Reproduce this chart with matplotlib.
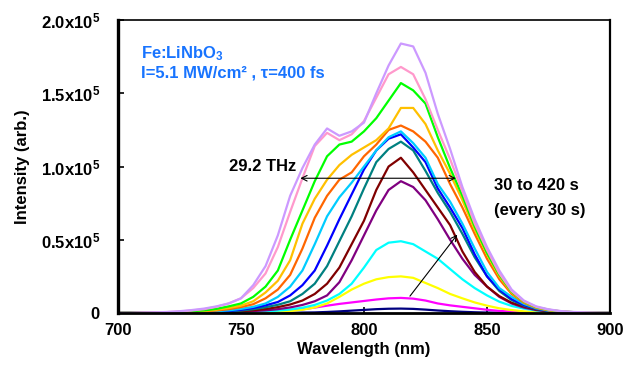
import numpy as np
import matplotlib
matplotlib.use('Agg')
import matplotlib.pyplot as plt

plt.rcParams['font.family'] = ['Liberation Sans', 'DejaVu Sans']
plt.rcParams['font.weight'] = 'bold'
plt.rcParams['mathtext.fontset'] = 'custom'
plt.rcParams['mathtext.rm'] = 'Liberation Sans:bold'
plt.rcParams['mathtext.it'] = 'Liberation Sans:bold'
plt.rcParams['mathtext.bf'] = 'Liberation Sans:bold'
plt.rcParams['mathtext.default'] = 'rm'

# wavelength grid (nm), intensities in units of 1e5 counts
wavelength = list(range(700, 905, 5))

s030 = [0, 0, 0, 0, 0, 0, 0, 0, 0, 0, 0, 0, 0.001, 0.001, 0.002, 0.003, 0.004, 0.007, 0.011, 0.016,
        0.021, 0.026, 0.029, 0.030, 0.028, 0.023, 0.017, 0.012, 0.008, 0.005, 0.003, 0.002, 0.001, 0, 0,
        0, 0, 0, 0, 0, 0]
s060 = [0, 0, 0, 0, 0, 0, 0, 0, 0.001, 0.002, 0.003, 0.004, 0.006, 0.010, 0.016, 0.025, 0.037, 0.050, 0.062, 0.072,
        0.082, 0.092, 0.100, 0.103, 0.098, 0.085, 0.065, 0.052, 0.042, 0.032, 0.022, 0.014, 0.009, 0.005, 0.003,
        0.002, 0.001, 0, 0, 0, 0]
s090 = [0, 0, 0, 0, 0, 0, 0, 0, 0, 0.001, 0.002, 0.003, 0.005, 0.008, 0.013, 0.022, 0.038, 0.065, 0.110, 0.160,
        0.200, 0.230, 0.245, 0.250, 0.240, 0.205, 0.170, 0.130, 0.100, 0.072, 0.050, 0.032, 0.020, 0.011, 0.006,
        0.003, 0.001, 0, 0, 0, 0]
s120 = [0, 0, 0, 0, 0, 0.001, 0.001, 0.002, 0.003, 0.004, 0.006, 0.008, 0.011, 0.016, 0.024, 0.036, 0.055, 0.085, 0.130, 0.200,
        0.310, 0.430, 0.480, 0.490, 0.470, 0.420, 0.370, 0.300, 0.230, 0.170, 0.120, 0.077, 0.048, 0.030, 0.017,
        0.009, 0.005, 0.002, 0.001, 0, 0]
s150 = [0, 0, 0, 0, 0.001, 0.001, 0.002, 0.003, 0.004, 0.006, 0.009, 0.013, 0.018, 0.026, 0.038, 0.055, 0.080, 0.120, 0.210, 0.360,
        0.530, 0.700, 0.840, 0.900, 0.860, 0.770, 0.640, 0.500, 0.370, 0.260, 0.180, 0.110, 0.065, 0.037, 0.020,
        0.010, 0.005, 0.002, 0.001, 0, 0]
s180 = [0, 0, 0, 0, 0.001, 0.001, 0.002, 0.003, 0.005, 0.008, 0.012, 0.018, 0.027, 0.040, 0.058, 0.085, 0.130, 0.200, 0.310, 0.470,
        0.630, 0.840, 1.000, 1.060, 0.960, 0.840, 0.720, 0.600, 0.420, 0.280, 0.180, 0.115, 0.070, 0.045, 0.024,
        0.012, 0.006, 0.003, 0.001, 0.001, 0]
s210 = [0, 0, 0, 0, 0.001, 0.002, 0.003, 0.005, 0.007, 0.011, 0.017, 0.026, 0.039, 0.056, 0.080, 0.130, 0.200, 0.320, 0.490, 0.660,
        0.850, 1.030, 1.120, 1.170, 1.110, 0.970, 0.820, 0.690, 0.540, 0.380, 0.250, 0.150, 0.088, 0.050, 0.027,
        0.014, 0.007, 0.003, 0.002, 0.001, 0]
s240 = [0, 0, 0, 0, 0.001, 0.002, 0.004, 0.006, 0.009, 0.014, 0.022, 0.034, 0.052, 0.075, 0.120, 0.190, 0.290, 0.460, 0.640, 0.810,
        0.980, 1.110, 1.190, 1.220, 1.130, 1.030, 0.850, 0.720, 0.580, 0.400, 0.250, 0.160, 0.095, 0.055, 0.030,
        0.015, 0.007, 0.004, 0.002, 0.001, 0]
s270 = [0, 0, 0, 0, 0.001, 0.003, 0.005, 0.008, 0.012, 0.018, 0.028, 0.042, 0.065, 0.110, 0.180, 0.290, 0.470, 0.660, 0.790, 0.890,
        1.000, 1.110, 1.200, 1.240, 1.160, 1.060, 0.880, 0.760, 0.610, 0.440, 0.280, 0.170, 0.110, 0.062, 0.032,
        0.016, 0.008, 0.004, 0.002, 0.001, 0]
s300 = [0, 0, 0, 0, 0.002, 0.004, 0.007, 0.011, 0.017, 0.026, 0.040, 0.060, 0.100, 0.160, 0.260, 0.440, 0.650, 0.800, 0.910, 0.960,
        1.070, 1.150, 1.250, 1.280, 1.240, 1.170, 1.060, 0.880, 0.720, 0.540, 0.370, 0.230, 0.130, 0.070, 0.035,
        0.018, 0.009, 0.005, 0.002, 0.001, 0]
s330 = [0, 0, 0, 0, 0.003, 0.005, 0.009, 0.014, 0.022, 0.034, 0.050, 0.080, 0.140, 0.220, 0.360, 0.610, 0.780, 0.910, 1.010, 1.080,
        1.130, 1.180, 1.260, 1.400, 1.400, 1.290, 1.110, 0.950, 0.770, 0.570, 0.400, 0.250, 0.140, 0.075, 0.038,
        0.020, 0.010, 0.005, 0.003, 0.001, 0]
s360 = [0, 0, 0, 0, 0.004, 0.007, 0.012, 0.018, 0.028, 0.045, 0.065, 0.110, 0.180, 0.290, 0.500, 0.700, 0.900, 1.070, 1.150, 1.170,
        1.240, 1.330, 1.450, 1.570, 1.520, 1.430, 1.200, 0.990, 0.800, 0.590, 0.410, 0.260, 0.145, 0.078, 0.040,
        0.022, 0.011, 0.006, 0.003, 0.002, 0.001]
s390 = [0, 0, 0.002, 0.003, 0.006, 0.010, 0.017, 0.026, 0.042, 0.065, 0.100, 0.170, 0.270, 0.450, 0.690, 0.920, 1.140, 1.230, 1.180, 1.220,
        1.310, 1.470, 1.630, 1.680, 1.630, 1.460, 1.250, 1.050, 0.830, 0.610, 0.430, 0.270, 0.150, 0.080, 0.042,
        0.023, 0.012, 0.006, 0.003, 0.002, 0.001]
s420 = [0, 0, 0.002, 0.004, 0.007, 0.012, 0.020, 0.030, 0.045, 0.065, 0.100, 0.190, 0.320, 0.530, 0.800, 0.990, 1.150, 1.260, 1.210, 1.240,
        1.300, 1.500, 1.690, 1.840, 1.820, 1.640, 1.360, 1.120, 0.860, 0.640, 0.450, 0.290, 0.160, 0.085, 0.045,
        0.025, 0.013, 0.007, 0.004, 0.002, 0.001]

series = [s030, s060, s090, s120, s150, s180, s210, s240, s270, s300, s330, s360, s390, s420]
colors = ['#000080', '#ff00ff', '#ffff00', '#00ffff', '#800080', '#800000', '#008080',
          '#0000ff', '#00ccff', '#ff6600', '#ffc000', '#00ff00', '#ff99cc', '#cc99ff']

y_ticks = [0, 0.5e5, 1.0e5, 1.5e5, 2.0e5]
y_ticklabels = ['0', '0.5x10$^5$', '1.0x10$^5$', '1.5x10$^5$', '2.0x10$^5$']
x_ticks = [700, 750, 800, 850, 900]

fig = plt.figure(figsize=(6.27, 3.65), dpi=100)
ax = fig.add_axes([0.188, 0.1425, 0.785, 0.8025])

wl = np.array(wavelength)
for vals, c in zip(series, colors):
    ax.plot(wl, np.array(vals) * 1e5, color=c, lw=1.6)

ax.set_xlim(700, 900)
ax.set_ylim(0, 2.0e5)
ax.set_xticks(x_ticks)
ax.set_xticklabels([str(t) for t in x_ticks])
ax.set_yticks(y_ticks)
ax.set_yticklabels(y_ticklabels)
ax.tick_params(axis='both', direction='in', length=4, width=1.2, labelsize=12)
ax.tick_params(axis='x', pad=7)
ax.tick_params(axis='y', pad=13)
ax.spines['left'].set_linewidth(2.4)
ax.spines['bottom'].set_linewidth(2.0)
ax.spines['top'].set_linewidth(1.2)
ax.spines['right'].set_linewidth(1.6)

ax.set_xlabel('Wavelength (nm)', fontsize=12, fontweight='bold', labelpad=3)
ax.set_ylabel('Intensity (arb.)', fontsize=12, fontweight='bold', labelpad=8)

blue = '#1874ff'
ax.text(709.3, 1.77e5, 'Fe:LiNbO$_3$', color=blue, fontsize=12, va='center')
ax.text(709.3, 1.64e5, 'I=5.1 MW/cm² , τ=400 fs', color=blue, fontsize=12, va='center')

# FWHM arrow
ax.annotate('', xy=(773, 0.92e5), xytext=(838.5, 0.92e5),
            arrowprops=dict(arrowstyle='<->', color='black', lw=0.8))
ax.text(759, 1.0e5, '29.2 THz', fontsize=12, ha='center', va='center')

# time arrow
ax.annotate('', xy=(838.6, 0.55e5), xytext=(818, 0.10e5),
            arrowprops=dict(arrowstyle='->', color='black', lw=0.8))
ax.text(852.8, 0.87e5, '30 to 420 s', fontsize=12, va='center')
ax.text(852.8, 0.70e5, '(every 30 s)', fontsize=12, va='center')

fig.savefig('out.png', dpi=100)
